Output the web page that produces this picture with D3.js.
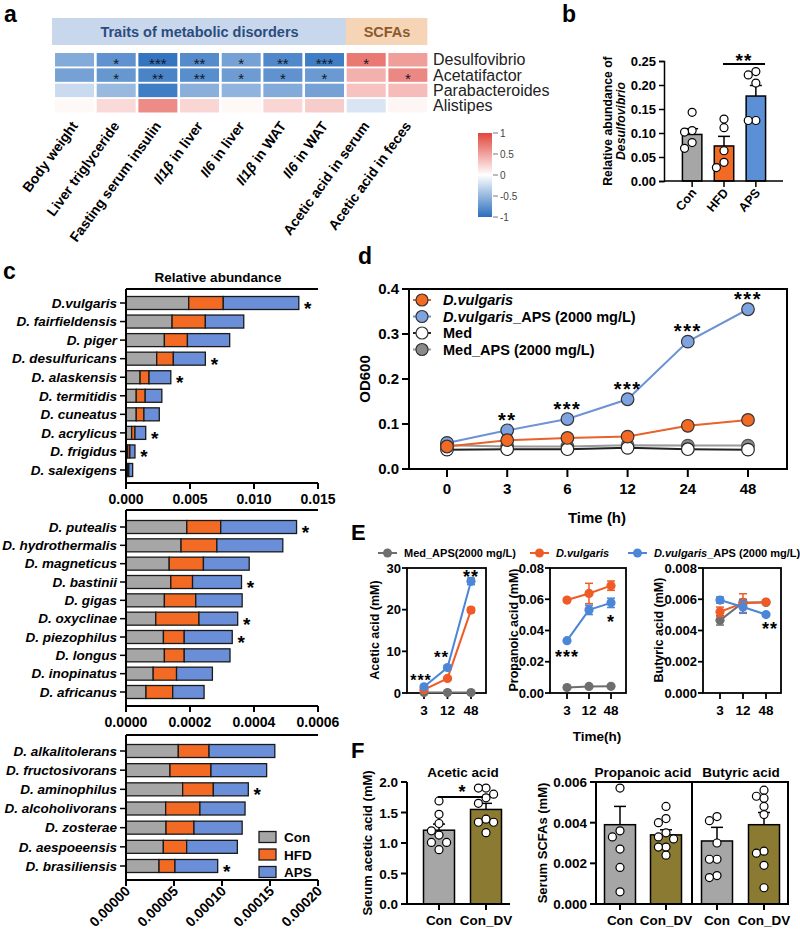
<!DOCTYPE html>
<html><head><meta charset="utf-8">
<script src="https://cdn.jsdelivr.net/npm/d3@7"></script>
<style>body{margin:0;background:#fff} text{font-family:'Liberation Sans',Arial,Helvetica,sans-serif}</style>
</head><body><svg id="c" width="800" height="939"></svg>
<script>
// ---------------- DATA ----------------
// a: heatmap
const heatTraits = ["Body weight","Liver triglyceride","Fasting serum insulin","Il1β in liver","Il6 in liver","Il1β in WAT","Il6 in WAT","Acetic acid in serum","Acetic acid in feces"];
const heatGenera = ["Desulfovibrio","Acetatifactor","Parabacteroides","Alistipes"];
const heatDesulfovibrio   = [-0.58,-0.75,-0.95,-0.80,-0.65,-0.82,-0.90, 0.72, 0.52];
const heatAcetatifactor   = [-0.65,-0.72,-0.85,-0.78,-0.68,-0.75,-0.70, 0.42, 0.64];
const heatParabacteroides = [-0.25,-0.48,-0.90,-0.55,-0.52,-0.58,-0.65, 0.32, 0.36];
const heatAlistipes       = [ 0.04, 0.20, 0.62, 0.22, 0.04, 0.22, 0.27,-0.18, 0.05];
const heatStarsDesulfovibrio = ["","*","***","**","*","**","***","*",""];
const heatStarsAcetatifactor = ["","*","**","**","*","*","*","","*"];
const heatColorTicks = [1,0.5,0,-0.5,-1];

// b
const bGroups = ["Con","HFD","APS"];
const bMeans = [0.097,0.073,0.177];
const bSEM = [0.012,0.020,0.022];
const bDotsCon = [0.143,0.105,0.102,0.080,0.068];
const bDotsHFD = [0.129,0.111,0.063,0.039,0.028];
const bDotsAPS = [0.228,0.221,0.204,0.126,0.126];
const bTicks = [0,0.05,0.10,0.15,0.20,0.25];

// c
const c1Species = ["D.vulgaris","D. fairfieldensis","D. piger","D. desulfuricans","D. alaskensis","D. termitidis","D. cuneatus","D. acrylicus","D. frigidus","D. salexigens"];
const c1Con = [0.0049,0.0036,0.0030,0.0024,0.0011,0.0008,0.0008,0.00044,0.00013,0.00012];
const c1HFD = [0.0027,0.0026,0.0018,0.0013,0.0007,0.0007,0.0006,0.00026,0.00017,0.00010];
const c1APS = [0.0059,0.0030,0.0033,0.0025,0.0017,0.0013,0.0012,0.00084,0.00040,0.00030];
const c1Star = [1,0,0,1,1,0,0,1,1,0];
const c1Ticks = [0,0.005,0.010,0.015];
const c2Species = ["D. putealis","D. hydrothermalis","D. magneticus","D. bastinii","D. gigas","D. oxyclinae","D. piezophilus","D. longus","D. inopinatus","D. africanus"];
const c2Con = [0.000190,0.000172,0.000135,0.000140,0.000120,0.000093,0.000117,0.000120,0.000085,0.0000625];
const c2HFD = [0.000106,0.000112,0.000107,0.000068,0.000098,0.000135,0.000065,0.000062,0.000073,0.0000835];
const c2APS = [0.000237,0.000206,0.000143,0.000153,0.000145,0.000121,0.000150,0.000143,0.000112,0.000098];
const c2Star = [1,0,0,1,0,1,1,0,0,0];
const c2Ticks = [0,0.0002,0.0004,0.0006];
const c3Species = ["D. alkalitolerans","D. fructosivorans","D. aminophilus","D. alcoholivorans","D. zosterae","D. aespoeensis","D. brasiliensis"];
const c3Con = [0.0000545,0.0000458,0.0000590,0.0000413,0.0000417,0.0000389,0.0000344];
const c3HFD = [0.0000320,0.0000427,0.0000320,0.0000357,0.0000291,0.0000243,0.0000166];
const c3APS = [0.0000685,0.0000580,0.0000364,0.0000470,0.0000502,0.0000528,0.0000445];
const c3Star = [0,0,1,0,0,0,1];
const c3Ticks = [0,0.00005,0.00010,0.00015,0.00020];
const cLegend = ["Con","HFD","APS"];

// d
const dTimes = ["0","3","6","12","24","48"];
const dVulgaris    = [0.050,0.064,0.069,0.072,0.096,0.109];
const dVulgarisAPS = [0.058,0.086,0.111,0.155,0.283,0.355];
const dMed         = [0.043,0.044,0.044,0.047,0.044,0.043];
const dMedAPS      = [0.053,0.050,0.050,0.053,0.052,0.052];
const dStars = ["","**","***","***","***","***"];
const dTicks = [0,0.1,0.2,0.3,0.4];

// E
const eTimes = ["3","12","48"];
const eAceticMed = [0.1,0.1,0.1],       eAceticMedErr = [0.05,0.05,0.05];
const eAceticDV  = [0.8,3.5,19.9],      eAceticDVErr  = [0.2,0.3,0.6];
const eAceticAPS = [1.5,6.1,26.8],      eAceticAPSErr = [0.3,0.4,0.8];
const ePropMed = [0.0035,0.0042,0.0043], ePropMedErr = [0.0003,0.0003,0.0003];
const ePropDV  = [0.0595,0.0637,0.0687], ePropDVErr  = [0.001,0.0065,0.003];
const ePropAPS = [0.0335,0.0532,0.0577], ePropAPSErr = [0.001,0.003,0.003];
const eButMed = [0.00465,0.0058,0.0058],  eButMedErr = [0.0003,0.0002,0.0001];
const eButDV  = [0.0052,0.00575,0.00582], eButDVErr  = [0.0003,0.0006,0.0001];
const eButAPS = [0.00595,0.0055,0.00502], eButAPSErr = [0.0002,0.0004,0.0001];

// F
const fGroups = ["Con","Con_DV"];
const fAceticMeans = [1.21,1.55], fAceticSEM = [0.10,0.10];
const fAceticCon   = [1.69,1.47,1.32,1.20,1.13,1.01,1.01,0.89];
const fAceticConDV = [1.90,1.90,1.80,1.74,1.65,1.39,1.34,1.34,1.17];
const fPropMeans = [0.0039,0.0034], fPropSEM = [0.0009,0.00025];
const fPropCon   = [0.0057,0.0036,0.0033,0.0027,0.0018,0.0006];
const fPropConDV = [0.0048,0.0042,0.0040,0.0035,0.0033,0.0032,0.0028,0.0028,0.0024];
const fButMeans = [0.0031,0.0039], fButSEM = [0.00067,0.0006];
const fButCon   = [0.0043,0.0041,0.0030,0.0022,0.0022,0.0014,0.0013];
const fButConDV = [0.0056,0.0053,0.0052,0.0048,0.0044,0.0026,0.0025,0.0019,0.0008];

// ---------------- DRAW ----------------
const svg = d3.select("#c");
const GRAY="#a6a6a6", ORANGE="#f26a24", BLUE="#6a8fd8", BLUEB="#5b8fd6", OLIVE="#8b7a32";

function txt(g,x,y,s,o={}){
  const t=g.append("text").attr("x",x).attr("y",y).text(s)
    .attr("font-size",o.size||12).attr("font-weight",o.weight||"bold")
    .attr("text-anchor",o.anchor||"start").attr("fill",o.fill||"#000");
  if(o.style) t.attr("font-style",o.style);
  if(o.ls) t.attr("letter-spacing",o.ls);
  if(o.rotate!=null) t.attr("transform",`rotate(${o.rotate},${x},${y})`);
  return t;
}
function star(g,x,cy,s,fs,ls){ return txt(g,x,cy+0.58*fs,s,{size:fs,anchor:"middle",ls:ls||0}); }
function line(g,x1,y1,x2,y2,w,c){ return g.append("line").attr("x1",x1).attr("y1",y1).attr("x2",x2).attr("y2",y2).attr("stroke",c||"#000").attr("stroke-width",w||1.5); }
function swarm(vals,y,cx,r){
  const placed=[]; const cands=[0,-2,2,-4,4,-6,6].map(k=>k*r*0.95);
  vals.map(v=>({v,y:y(v)})).forEach(p=>{
    for(const dx of cands){ const px=cx+dx;
      if(placed.every(q=>Math.hypot(q.x-px,q.y-p.y)>=2*r-0.5)){ placed.push({x:px,y:p.y}); break; } }
  });
  return placed;
}

// panel letters
txt(svg,4,22,"a",{size:23});
txt(svg,562,22,"b",{size:23});
txt(svg,3,279,"c",{size:23});
txt(svg,358,264,"d",{size:23});
txt(svg,351,540,"E",{size:22});
txt(svg,351,758,"F",{size:22});

// ===== a: heatmap =====
(function(){
  const g=svg.append("g");
  const x=d3.scaleBand().domain(heatTraits).range([53.7,428.7]).paddingInner(0.064).paddingOuter(0.032);
  const y=d3.scaleBand().domain(heatGenera).range([52.1,113.4]).paddingInner(0.12).paddingOuter(0.06);
  const col=d3.scaleLinear().domain([-1,0,1]).range(["#2a6ebd","#ffffff","#e2453d"]);
  const rows=[heatDesulfovibrio,heatAcetatifactor,heatParabacteroides,heatAlistipes];
  const starRows=[heatStarsDesulfovibrio,heatStarsAcetatifactor,[],[]];
  g.append("rect").attr("x",x(heatTraits[0])-3).attr("y",18).attr("width",x(heatTraits[6])+x.bandwidth()+2-(x(heatTraits[0])-3)).attr("height",27).attr("fill","#c8d7eb");
  g.append("rect").attr("x",x(heatTraits[7])-1).attr("y",18).attr("width",x(heatTraits[8])+x.bandwidth()-x(heatTraits[7])+1).attr("height",27).attr("fill","#f6d4b6");
  txt(g,(x(heatTraits[0])+x(heatTraits[6])+x.bandwidth())/2,37,"Traits of metabolic disorders",{size:14.5,anchor:"middle",fill:"#2b4c7e"});
  txt(g,(x(heatTraits[7])+x(heatTraits[8])+x.bandwidth())/2,37,"SCFAs",{size:14.5,anchor:"middle",fill:"#8a5a2c"});
  heatGenera.forEach((gn,ri)=>{
    heatTraits.forEach((tr,ci)=>{
      g.append("rect").attr("x",x(tr)).attr("y",y(gn)).attr("width",x.bandwidth()).attr("height",y.bandwidth()).attr("fill",col(rows[ri][ci]));
      const s=starRows[ri][ci];
      if(s) txt(g,x(tr)+x.bandwidth()/2,y(gn)+y.bandwidth()/2+8.8,s,{size:15,anchor:"middle",weight:"normal",fill:"#111827"});
    });
    txt(g,433,y(gn)+y.bandwidth()/2+5.5,gn,{size:16,weight:"normal",fill:"#222"});
  });
  heatTraits.forEach(tr=>{
    const cx=x(tr)+x.bandwidth()/2+4, cy=126;
    const t=g.append("text").attr("x",cx).attr("y",cy).attr("text-anchor","end").attr("font-size",14).attr("font-weight","bold")
      .attr("transform",`rotate(-54,${cx},${cy})`);
    const m=tr.match(/^(Il1β|Il6)(.*)$/);
    if(m){ t.append("tspan").attr("font-style","italic").text(m[1]); t.append("tspan").text(m[2]); }
    else t.text(tr);
  });
  const defs=svg.append("defs");
  const lg=defs.append("linearGradient").attr("id","hg").attr("x1",0).attr("y1",0).attr("x2",0).attr("y2",1);
  [[0,1],[0.25,0.5],[0.5,0],[0.75,-0.5],[1,-1]].forEach(([o,v])=>lg.append("stop").attr("offset",o).attr("stop-color",col(v)));
  const cy=d3.scaleLinear().domain([-1,1]).range([217,133]);
  g.append("rect").attr("x",478).attr("y",cy(1)).attr("width",14).attr("height",cy(-1)-cy(1)).attr("fill","url(#hg)");
  heatColorTicks.forEach(v=>{ line(g,493,cy(v),498,cy(v),0.8,"#555"); txt(g,500,cy(v)+3.5,String(v),{size:10,weight:"normal",fill:"#444"}); });
})();

// ===== b =====
(function(){
  const g=svg.append("g");
  const y=d3.scaleLinear([0,0.25],[181,61]);
  const x=d3.scaleBand().domain(bGroups).range([670,778]).padding(0.39);
  const cols=[GRAY,ORANGE,BLUEB]; const dots=[bDotsCon,bDotsHFD,bDotsAPS];
  bGroups.forEach((gr,i)=>{
    const bx=x(gr), cx=bx+x.bandwidth()/2;
    g.append("rect").attr("x",bx).attr("y",y(bMeans[i])).attr("width",x.bandwidth()).attr("height",y(0)-y(bMeans[i])).attr("fill",cols[i]).attr("stroke","#000").attr("stroke-width",1.5);
    line(g,cx,y(bMeans[i]),cx,y(bMeans[i]+bSEM[i]),1.5); line(g,cx-6,y(bMeans[i]+bSEM[i]),cx+6,y(bMeans[i]+bSEM[i]),1.5);
    swarm(dots[i],y,cx,4).forEach(p=>g.append("circle").attr("cx",p.x).attr("cy",p.y).attr("r",4).attr("fill","#fff").attr("stroke","#000").attr("stroke-width",1.2));
    line(g,cx,181,cx,187,1.5);
    txt(g,cx+5,193,gr,{size:12.5,anchor:"end",rotate:-50});
  });
  const ax=g.append("g").attr("transform","translate(664,0)").call(d3.axisLeft(y).tickValues(bTicks).tickFormat(d3.format(".2f")).tickSize(5));
  ax.select(".domain").attr("stroke-width",1.5); ax.selectAll(".tick line").attr("stroke-width",1.5);
  ax.selectAll("text").attr("font-size",13).attr("font-weight","bold").attr("font-family","'Liberation Sans',Arial,sans-serif");
  line(g,664,181,783,181,1.5);
  line(g,723,64,765,64,2); star(g,744,56,"**",19,1);
  txt(g,612,121,"Relative abundance of",{size:12.2,anchor:"middle",rotate:-90});
  txt(g,625,121,"Desulfovibrio",{size:12.2,anchor:"middle",rotate:-90,style:"italic"});
})();

// ===== c =====
function cPanel(species,con,hfd,aps,stars,ticks,fmt,yTop,yFirst,yLast,yAxis,rotated){
  const g=svg.append("g");
  const x=d3.scaleLinear([0,ticks[ticks.length-1]],[126,318]);
  const y=d3.scalePoint(species,[yFirst,yLast]);
  const bh=13;
  species.forEach((s,i)=>{
    const segs=[[0,con[i],GRAY],[con[i],con[i]+hfd[i],ORANGE],[con[i]+hfd[i],con[i]+hfd[i]+aps[i],BLUE]];
    segs.forEach(([a,b,c])=>g.append("rect").attr("x",x(a)).attr("y",y(s)-bh/2).attr("width",x(b)-x(a)).attr("height",bh).attr("fill",c).attr("stroke","#1a1a1a").attr("stroke-width",1.3));
    if(stars[i]) star(g,x(con[i]+hfd[i]+aps[i])+9,y(s)+1,"*",19);
    line(g,120,y(s),126,y(s),1.5);
    txt(g,117,y(s)+4.8,s,{size:13.5,anchor:"end",style:"italic"});
  });
  line(g,126,yTop,126,yAxis,2); line(g,126,yTop,318,yTop,2); line(g,125,yAxis,318,yAxis,2);
  ticks.forEach(t=>{ line(g,x(t),yAxis,x(t),yAxis+6,2);
    if(rotated) txt(g,x(t)+5,yAxis+12,fmt(t),{size:14,anchor:"end",rotate:-45});
    else txt(g,x(t),yAxis+21,fmt(t),{size:14,anchor:"middle"}); });
}
txt(svg,218,282,"Relative abundance",{size:13.5,anchor:"middle"});
cPanel(c1Species,c1Con,c1HFD,c1APS,c1Star,c1Ticks,d3.format(".3f"),289,303,470,483,false);
cPanel(c2Species,c2Con,c2HFD,c2APS,c2Star,c2Ticks,d3.format(".4f"),510,527,692,706,false);
cPanel(c3Species,c3Con,c3HFD,c3APS,c3Star,c3Ticks,d3.format(".5f"),735,751,866,880,true);
cLegend.forEach((n,i)=>{ const yy=837+i*17.5;
  svg.append("rect").attr("x",259).attr("y",yy-5.5).attr("width",17).attr("height",11).attr("fill",[GRAY,ORANGE,BLUE][i]).attr("stroke","#1a1a1a").attr("stroke-width",1.3);
  txt(svg,284,yy+5,n,{size:13.5}); });

// ===== d =====
(function(){
  const g=svg.append("g");
  const x=d3.scalePoint(dTimes,[447,748]);
  const y=d3.scaleLinear([0,0.4],[469,289]);
  g.append("rect").attr("x",409).attr("y",289).attr("width",378).attr("height",180).attr("fill","none").attr("stroke","#000").attr("stroke-width",2);
  dTicks.forEach(t=>{ line(g,402,y(t),409,y(t),2); txt(g,399,y(t)+5,d3.format(".1f")(t),{size:15,anchor:"end"}); });
  dTimes.forEach(t=>{ line(g,x(t),469,x(t),477,2); txt(g,x(t),494,t,{size:15,anchor:"middle"}); });
  txt(g,597,523,"Time (h)",{size:15,anchor:"middle"});
  txt(g,370,379,"OD600",{size:15,anchor:"middle",rotate:-90});
  const series=[[dMedAPS,"#9a9a9a","#8a8a8a","#555"],[dMed,"#222","#fff","#222"],[dVulgarisAPS,"#6d93d6","#7ea3e0","#333"],[dVulgaris,"#e8622a","#f26a24","#333"]];
  series.forEach(([vals,lc,fc,sc])=>{
    g.append("path").attr("d",d3.line().x((d,i)=>x(dTimes[i])).y(d=>y(d))(vals)).attr("fill","none").attr("stroke",lc).attr("stroke-width",2);
    vals.forEach((v,i)=>g.append("circle").attr("cx",x(dTimes[i])).attr("cy",y(v)).attr("r",6.3).attr("fill",fc).attr("stroke",sc).attr("stroke-width",1.2));
  });
  dStars.forEach((s,i)=>{ if(s) star(g,x(dTimes[i]),y(dVulgarisAPS[i])-15,s,20,1.5); });
  const leg=[["D.vulgaris","","#e8622a","#f26a24"],["D.vulgaris","_APS (2000 mg/L)","#6d93d6","#7ea3e0"],["","Med","#222","#fff"],["","Med_APS (2000 mg/L)","#9a9a9a","#8a8a8a"]];
  leg.forEach(([it,rest,lc,fc],i)=>{ const yy=300+i*16.5;
    line(g,413,yy,431,yy,2,lc);
    g.append("circle").attr("cx",422).attr("cy",yy).attr("r",6).attr("fill",fc).attr("stroke","#333").attr("stroke-width",1.2);
    const t=g.append("text").attr("x",443).attr("y",yy+5).attr("font-size",14.5).attr("font-weight","bold");
    if(it) t.append("tspan").attr("font-style","italic").text(it);
    if(rest) t.append("tspan").text(rest);
  });
})();

// ===== E =====
function ePanel(x0,x1,dom,ticks,fmt,title,titleX,series,stars){
  const g=svg.append("g");
  const y=d3.scaleLinear(dom,[693,568]);
  const x=d3.scalePoint(eTimes,[x0+17,x1-15]);
  g.append("rect").attr("x",x0).attr("y",568).attr("width",x1-x0).attr("height",125).attr("fill","none").attr("stroke","#000").attr("stroke-width",1.8);
  ticks.forEach(t=>{ line(g,x0-5,y(t),x0,y(t),1.8); txt(g,x0-6,y(t)+4.5,fmt(t),{size:13,anchor:"end"}); });
  eTimes.forEach(t=>{ line(g,x(t),693,x(t),699,1.8); txt(g,x(t),715,t,{size:13.5,anchor:"middle"}); });
  txt(g,titleX,630,title,{size:12.5,anchor:"middle",rotate:-90});
  series.forEach(([vals,errs,c])=>{
    g.append("path").attr("d",d3.line().x((d,i)=>x(eTimes[i])).y(d=>y(d))(vals)).attr("fill","none").attr("stroke",c).attr("stroke-width",2);
    vals.forEach((v,i)=>{ const cx=x(eTimes[i]);
      line(g,cx,y(v-errs[i]),cx,y(v+errs[i]),1.5,c); line(g,cx-4,y(v+errs[i]),cx+4,y(v+errs[i]),1.5,c); line(g,cx-4,y(v-errs[i]),cx+4,y(v-errs[i]),1.5,c);
      g.append("circle").attr("cx",cx).attr("cy",y(v)).attr("r",4.6).attr("fill",c); });
  });
  stars.forEach(([ti,dx,v,s,fs])=>star(g,x(eTimes[ti])+dx,y(v),s,fs||18,1));
}
const EG="#6e6e6e", EO="#ef5b26", EB="#4b87d6";
ePanel(407,486,[0,30],[0,10,20,30],d3.format("d"),"Acetic acid (mM)",379,
  [[eAceticMed,eAceticMedErr,EG],[eAceticDV,eAceticDVErr,EO],[eAceticAPS,eAceticAPSErr,EB]],
  [[0,-3,3.9,"***",16],[1,-6,9.6,"**",17],[2,0,28.8,"**"]]);
ePanel(550,626,[0,0.08],[0,0.02,0.04,0.06,0.08],d3.format(".2f"),"Propanoic acid (mM)",518,
  [[ePropMed,ePropMedErr,EG],[ePropDV,ePropDVErr,EO],[ePropAPS,ePropAPSErr,EB]],
  [[0,0,0.0256,"***"],[2,0,0.0486,"*"]]);
ePanel(703,781,[0,0.008],[0,0.002,0.004,0.006,0.008],d3.format(".3f"),"Butyric acid (mM)",663,
  [[eButMed,eButMedErr,EG],[eButDV,eButDVErr,EO],[eButAPS,eButAPSErr,EB]],
  [[2,4,0.00435,"**"]]);
txt(svg,597,741,"Time(h)",{size:13.5,anchor:"middle"});
(function(){
  const leg=[["","Med_APS(2000 mg/L)",EG,378],["D.vulgaris","",EO,530],["D.vulgaris","_APS (2000 mg/L)",EB,628]];
  leg.forEach(([it,rest,c,lx])=>{
    line(svg,lx,553,lx+19,553,2,c); svg.append("circle").attr("cx",lx+9.5).attr("cy",553).attr("r",4.5).attr("fill",c);
    const t=svg.append("text").attr("x",lx+26).attr("y",557).attr("font-size",11).attr("font-weight","bold");
    if(it) t.append("tspan").attr("font-style","italic").text(it);
    if(rest) t.append("tspan").text(rest);
  });
})();

// ===== F =====
(function(){
  const g=svg.append("g");
  const y1=d3.scaleLinear([0,2],[904,782]);
  const x1=d3.scalePoint(fGroups,[439,486]);
  const bars=(y,cx,m,s,dots,c)=>{
    g.append("rect").attr("x",cx-15.5).attr("y",y(m)).attr("width",31).attr("height",y(0)-y(m)).attr("fill",c).attr("stroke","#000").attr("stroke-width",1.5);
    line(g,cx,y(m),cx,y(m+s),1.5); line(g,cx-6,y(m+s),cx+6,y(m+s),1.5);
    swarm(dots,y,cx,4).forEach(p=>g.append("circle").attr("cx",p.x).attr("cy",p.y).attr("r",4).attr("fill","#fff").attr("stroke","#000").attr("stroke-width",1.2));
  };
  bars(y1,x1("Con"),fAceticMeans[0],fAceticSEM[0],fAceticCon,GRAY);
  bars(y1,x1("Con_DV"),fAceticMeans[1],fAceticSEM[1],fAceticConDV,OLIVE);
  line(g,407,782,407,904,2); line(g,406,904,510,904,2);
  [0,0.5,1,1.5,2].forEach(t=>{ line(g,401,y1(t),407,y1(t),2); txt(g,398,y1(t)+5,d3.format(".1f")(t),{size:13.5,anchor:"end"}); });
  fGroups.forEach(gr=>{ line(g,x1(gr),904,x1(gr),910,2); txt(g,x1(gr),925,gr,{size:13.5,anchor:"middle"}); });
  txt(g,463,777,"Acetic acid",{size:13.5,anchor:"middle"});
  line(g,438,797,483,797,2); star(g,462,788,"*",18);
  txt(g,372,843,"Serum acetic acid (mM)",{size:13,anchor:"middle",rotate:-90});
  const y2=d3.scaleLinear([0,0.006],[904,782]);
  const xp=d3.scalePoint(fGroups,[620,666]), xb=d3.scalePoint(fGroups,[717,764]);
  bars(y2,xp("Con"),fPropMeans[0],fPropSEM[0],fPropCon,GRAY);
  bars(y2,xp("Con_DV"),fPropMeans[1],fPropSEM[1],fPropConDV,OLIVE);
  bars(y2,xb("Con"),fButMeans[0],fButSEM[0],fButCon,GRAY);
  bars(y2,xb("Con_DV"),fButMeans[1],fButSEM[1],fButConDV,OLIVE);
  g.append("rect").attr("x",596).attr("y",782).attr("width",192).attr("height",122).attr("fill","none").attr("stroke","#000").attr("stroke-width",2);
  line(g,692,782,692,904,2);
  [0,0.002,0.004,0.006].forEach(t=>{ line(g,590,y2(t),596,y2(t),2); txt(g,587,y2(t)+5,d3.format(".3f")(t),{size:13.5,anchor:"end"}); });
  fGroups.forEach(gr=>{ [xp,xb].forEach(xs=>{ line(g,xs(gr),904,xs(gr),910,2); txt(g,xs(gr),925,gr,{size:13.5,anchor:"middle"}); }); });
  txt(g,643,777,"Propanoic acid",{size:13.5,anchor:"middle"});
  txt(g,741,777,"Butyric acid",{size:13.5,anchor:"middle"});
  txt(g,547,843,"Serum SCFAs (mM)",{size:13,anchor:"middle",rotate:-90});
})();
</script></body></html>
